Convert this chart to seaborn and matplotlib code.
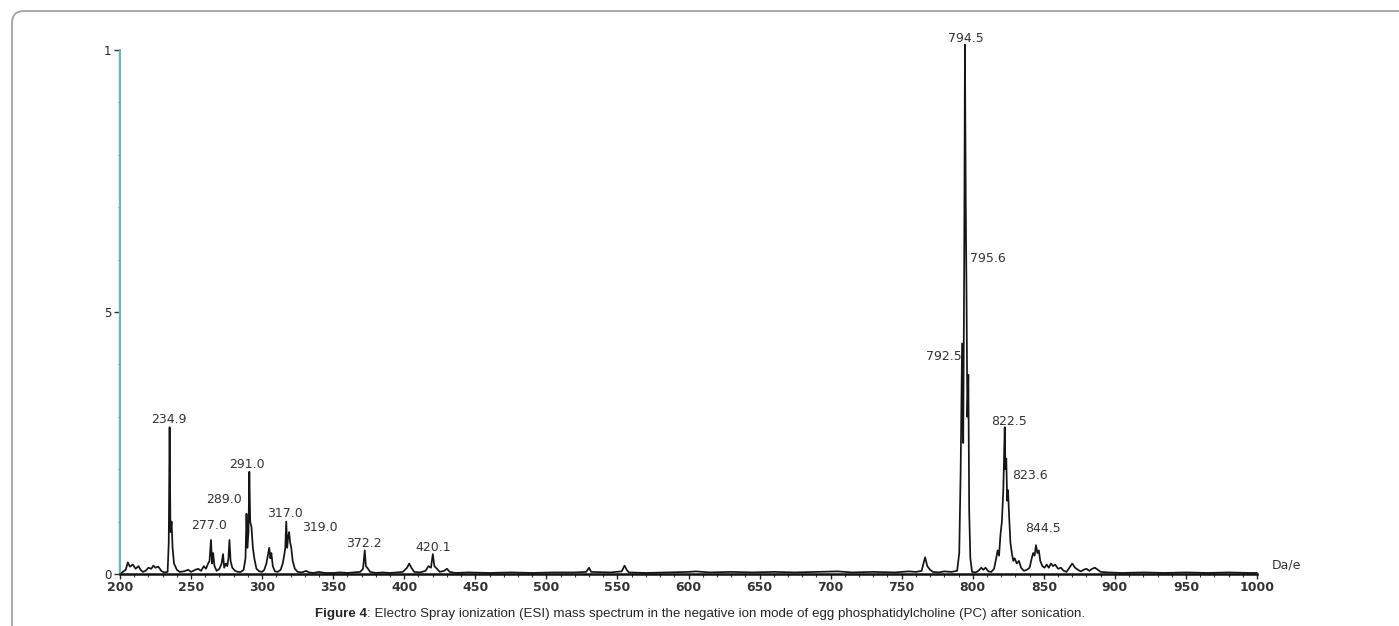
import matplotlib
matplotlib.use("Agg")
import matplotlib.pyplot as plt
import seaborn as sns
import numpy as np
import pandas as pd
from matplotlib.patches import FancyBboxPatch
from matplotlib.transforms import IdentityTransform, ScaledTranslation

# ---------------- data ----------------
# low-mass region profile (m/z, relative intensity)
low_mz = [200.0, 202, 204, 205.5, 207, 209, 211, 213, 214.5, 216, 218, 220, 222, 223.5, 225, 227, 229, 231,
          233.5, 234.3, 234.9, 235.5, 236.3, 237, 238, 240, 242, 245, 248, 250, 253, 255, 257, 259, 260.5,
          262, 263, 264, 264.8, 265.5, 266.5, 268, 270, 271.5, 272.5, 273.3, 274.5, 275.5, 276.3, 277.0,
          277.8, 279, 281, 283, 285, 287, 288.3, 289.0, 289.6, 290.4, 291.0, 291.6, 292.5, 293.5, 294.5,
          296, 298, 300, 301.5, 303, 304, 305, 305.8, 306.5, 307.5, 309, 311, 313, 314.5, 315.5, 316.3,
          317.0, 317.6, 318.3, 319.0, 319.7, 320.5, 321.5, 323, 325, 328, 331, 333, 336, 340, 344]
low_int = [0.0, 0.004, 0.008, 0.022, 0.014, 0.018, 0.010, 0.015, 0.008, 0.004, 0.006, 0.012, 0.010, 0.016,
           0.012, 0.014, 0.006, 0.003, 0.004, 0.060, 0.280, 0.080, 0.100, 0.050, 0.020, 0.008, 0.004, 0.005,
           0.008, 0.004, 0.008, 0.010, 0.006, 0.015, 0.010, 0.020, 0.025, 0.065, 0.020, 0.040, 0.015, 0.006,
           0.010, 0.020, 0.038, 0.012, 0.020, 0.015, 0.030, 0.065, 0.025, 0.012, 0.006, 0.004, 0.004, 0.008,
           0.030, 0.115, 0.050, 0.080, 0.195, 0.100, 0.090, 0.050, 0.030, 0.010, 0.005, 0.004, 0.008, 0.020,
           0.035, 0.050, 0.030, 0.040, 0.015, 0.005, 0.004, 0.008, 0.020, 0.035, 0.050, 0.100, 0.050, 0.070,
           0.080, 0.060, 0.050, 0.025, 0.010, 0.004, 0.003, 0.006, 0.003, 0.002, 0.004, 0.002]

# middle region profile
mid_mz = [350, 355, 360, 365, 369, 371, 372.2, 373, 374.5, 376, 380, 385, 390, 395, 399, 402, 403.5, 405,
          407, 411, 415, 417, 418.8, 420.1, 421.2, 423, 425, 428, 430, 432, 436, 445, 460, 475, 490, 505,
          520, 528, 530, 531.5, 545, 553, 555, 556.5, 558, 570, 585, 600, 605, 615, 630, 645, 660, 675,
          690, 705, 715, 730, 745, 755, 760]
mid_int = [0.002, 0.003, 0.002, 0.003, 0.004, 0.010, 0.045, 0.015, 0.010, 0.004, 0.002, 0.003, 0.002, 0.003,
           0.004, 0.012, 0.020, 0.012, 0.004, 0.003, 0.006, 0.015, 0.012, 0.038, 0.015, 0.010, 0.004, 0.006,
           0.010, 0.004, 0.002, 0.003, 0.002, 0.003, 0.002, 0.003, 0.003, 0.004, 0.012, 0.004, 0.003, 0.005,
           0.016, 0.008, 0.003, 0.002, 0.003, 0.004, 0.005, 0.003, 0.004, 0.003, 0.004, 0.003, 0.004, 0.005,
           0.003, 0.004, 0.003, 0.005, 0.004]

# high-mass region profile
high_mz = [764, 766.5, 768, 770, 772, 776, 780, 785, 789, 790.5, 791.5, 792.5, 793.3, 794.0, 794.5, 795.1,
           795.6, 796.2, 796.9, 797.5, 798.3, 799.5, 802, 804, 806, 807.5, 809, 811, 813, 815, 816.5, 817.5,
           818.5, 819.5, 820.5, 821.5, 822.5, 823.0, 823.6, 824.2, 824.8, 825.5, 826.5, 827.5, 828.5, 829.5,
           831, 832.5, 834, 836, 838, 840, 841.5, 842.5, 843.5, 844.5, 845.5, 846.5, 847.5, 849, 850.5, 852,
           853.5, 855, 856.5, 858, 860, 862, 864, 866, 868, 870, 872, 874, 876, 878, 880, 882, 884, 886, 888,
           890, 895, 905, 920, 935, 950, 965, 980, 995, 1000]
high_int = [0.006, 0.032, 0.015, 0.008, 0.004, 0.003, 0.005, 0.004, 0.006, 0.040, 0.200, 0.440, 0.250, 0.600,
            1.010, 0.700, 0.540, 0.300, 0.380, 0.120, 0.030, 0.004, 0.003, 0.006, 0.012, 0.008, 0.012, 0.005,
            0.004, 0.010, 0.030, 0.045, 0.035, 0.075, 0.100, 0.160, 0.280, 0.200, 0.220, 0.140, 0.160, 0.116,
            0.060, 0.040, 0.025, 0.030, 0.020, 0.025, 0.012, 0.006, 0.008, 0.012, 0.030, 0.040, 0.035, 0.055,
            0.040, 0.045, 0.025, 0.015, 0.012, 0.018, 0.012, 0.020, 0.015, 0.018, 0.010, 0.012, 0.006, 0.004,
            0.012, 0.020, 0.012, 0.008, 0.005, 0.008, 0.010, 0.006, 0.010, 0.012, 0.008, 0.004, 0.003, 0.002,
            0.003, 0.002, 0.003, 0.002, 0.003, 0.002, 0.002]

# labelled peaks
label_mz = [234.9, 277.0, 289.0, 291.0, 317.0, 319.0, 372.2, 420.1, 794.5, 795.6, 792.5, 822.5, 823.6, 844.5]
label_int = [0.28, 0.065, 0.115, 0.195, 0.10, 0.08, 0.045, 0.038, 1.01, 0.54, 0.44, 0.28, 0.22, 0.055]
label_txt = ["234.9", "277.0", "289.0", "291.0", "317.0", "319.0", "372.2", "420.1",
             "794.5", "795.6", "792.5", "822.5", "823.6", "844.5"]

x_ticks = list(range(200, 1001, 50))
x_ticklabels = [str(v) for v in x_ticks]
y_ticks = [0, 0.5, 1.0]
y_ticklabels = ["0", "5", "1"]

caption_bold = "Figure 4"
caption_rest = ": Electro Spray ionization (ESI) mass spectrum in the negative ion mode of egg phosphatidylcholine (PC) after sonication."

# ---------------- style / layout ----------------
# pixel offsets of labels from their peak tops (dx, dy)
label_offsets = [(-1, 1), (-20, 8), (-22, 8), (-2, 1), (-1, 2), (31, -2), (-1, 0), (0, 0),
                 (1, 0), (21, 26), (-18, -20), (4, -1), (24, -23), (7, 10)]

sns.set_theme(style="white")
plt.rcParams["font.family"] = ["DejaVu Sans"]

W, H = 1399, 626
fig = plt.figure(figsize=(W / 100, H / 100), dpi=100)
fig.patch.set_facecolor("white")

x0, x1, yb, yt = 120, 1257, 574, 50
ax = fig.add_axes([x0 / W, 1 - yb / H, (x1 - x0) / W, (yb - yt) / H])
ax.set_facecolor("none")

df = pd.DataFrame({
    "mz": low_mz + mid_mz + high_mz,
    "intensity": low_int + mid_int + high_int,
})
sns.lineplot(data=df, x="mz", y="intensity", estimator=None, sort=False,
             color="#151515", lw=1.25, ax=ax, clip_on=False)

ax.set_xlim(200, 1000)
ax.set_ylim(0, 1.0)
ax.set_xlabel("")
ax.set_ylabel("")

for s in ["top", "right"]:
    ax.spines[s].set_visible(False)
ax.spines["bottom"].set_color("#111")
ax.spines["bottom"].set_linewidth(1.8)
ax.spines["left"].set_color("#5bbcbc")
ax.spines["left"].set_linewidth(1.4)
# reddish misregistration line next to the y axis (scan look)
ax.plot([0, 0], [0, 1], transform=ax.transAxes + ScaledTranslation(-1.5 / 100, 0, fig.dpi_scale_trans),
        color="#d98a78", lw=1.0, clip_on=False)

ax.set_xticks(x_ticks)
ax.set_xticklabels(x_ticklabels)
ax.set_xticks(list(range(200, 1001, 10)), minor=True)
ax.set_yticks(y_ticks)
ax.set_yticklabels(y_ticklabels)
ax.set_yticks([i / 10 for i in range(11)], minor=True)
ax.tick_params(axis="x", which="major", direction="out", length=3.5, width=1, pad=1.5,
               labelsize=9, labelcolor="#333", color="#222", bottom=True)
ax.tick_params(axis="x", which="minor", direction="out", length=2, width=0.8, color="#333", bottom=True)
ax.tick_params(axis="y", which="major", direction="out", length=4, width=1, pad=2,
               labelsize=8.5, labelcolor="#222", color="#333", left=True)
ax.tick_params(axis="y", which="minor", direction="out", length=1.5, width=0.7, color="#666", left=True)
for lab in ax.get_xticklabels():
    lab.set_fontweight("bold")

for m, v, t, (dx, dy) in zip(label_mz, label_int, label_txt, label_offsets):
    ax.annotate(t, xy=(m, v), xytext=(dx, dy), textcoords="offset pixels",
                ha="center", va="bottom", fontsize=9, color="#333", annotation_clip=False)

ax.annotate("Da/e", xy=(1, 0), xycoords="axes fraction", xytext=(29, 2),
            textcoords="offset pixels", ha="center", va="bottom", fontsize=9, color="#333",
            annotation_clip=False)

# caption
fs_cap = 9.6
fig.canvas.draw()
r = fig.canvas.get_renderer()
tb = fig.text(0, 0, caption_bold, fontsize=fs_cap, fontweight="bold", family="Liberation Sans")
tr = fig.text(0, 0, caption_rest, fontsize=fs_cap, family="Liberation Sans")
wb = tb.get_window_extent(r).width
wr = tr.get_window_extent(r).width
start = 700 - (wb + wr) / 2
ycap = 1 - 617 / H
tb.set_position((start / W, ycap))
tr.set_position(((start + wb) / W, ycap))

# rounded frame
frame = FancyBboxPatch((12, -60), 1450, 675, boxstyle="round,pad=0,rounding_size=12",
                       transform=IdentityTransform(), fill=False, edgecolor="#a8a8a8", lw=1.4)
fig.patches.append(frame)

fig.savefig("out.png", dpi=100)
